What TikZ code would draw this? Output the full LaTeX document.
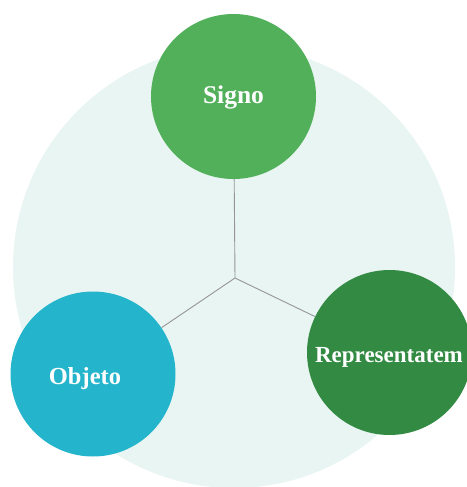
\documentclass[tikz,border=0pt]{standalone}
\usepackage{fontspec}
\setmainfont{Liberation Serif}
\definecolor{haze}{HTML}{E9F5F2}
\definecolor{signo}{HTML}{52B05B}
\definecolor{repr}{HTML}{328A43}
\definecolor{objeto}{HTML}{24B5CC}
\definecolor{link}{HTML}{959595}
\tikzset{
  bubble/.style={circle, minimum size=165pt, inner sep=0pt},
  caption/.style={text=white, inner sep=0pt, font=\bfseries\fontsize{#1}{#1}\selectfont},
  connector/.style={draw=link, line width=0.9pt}
}
\begin{document}
\begin{tikzpicture}[x=1pt, y=-1pt]
  \useasboundingbox (0,0) rectangle (466,487);
  % soft backdrop disc
  \fill[haze] (234,267) circle (221);
  % hub of the three branches
  \coordinate (hub) at (235,278);
  \node[bubble, fill=signo] (s) at (233.5,96.5) {};
  \node[bubble, fill=objeto] (o) at (93,374) {};
  \node[bubble, fill=repr] (r) at (389.5,352.5) {};
  \node[caption=25.5] (sl) at (233.5,97) {Signo};
  \node[caption=24.5] (ol) at (85,379) {Objeto};
  \node[caption=23] (rl) at (389,357) {Representatem};
  \draw[connector] (s) -- (hub);
  \draw[connector] (hub) -- (o);
  \draw[connector] (hub) -- (r);
\end{tikzpicture}
\end{document}
